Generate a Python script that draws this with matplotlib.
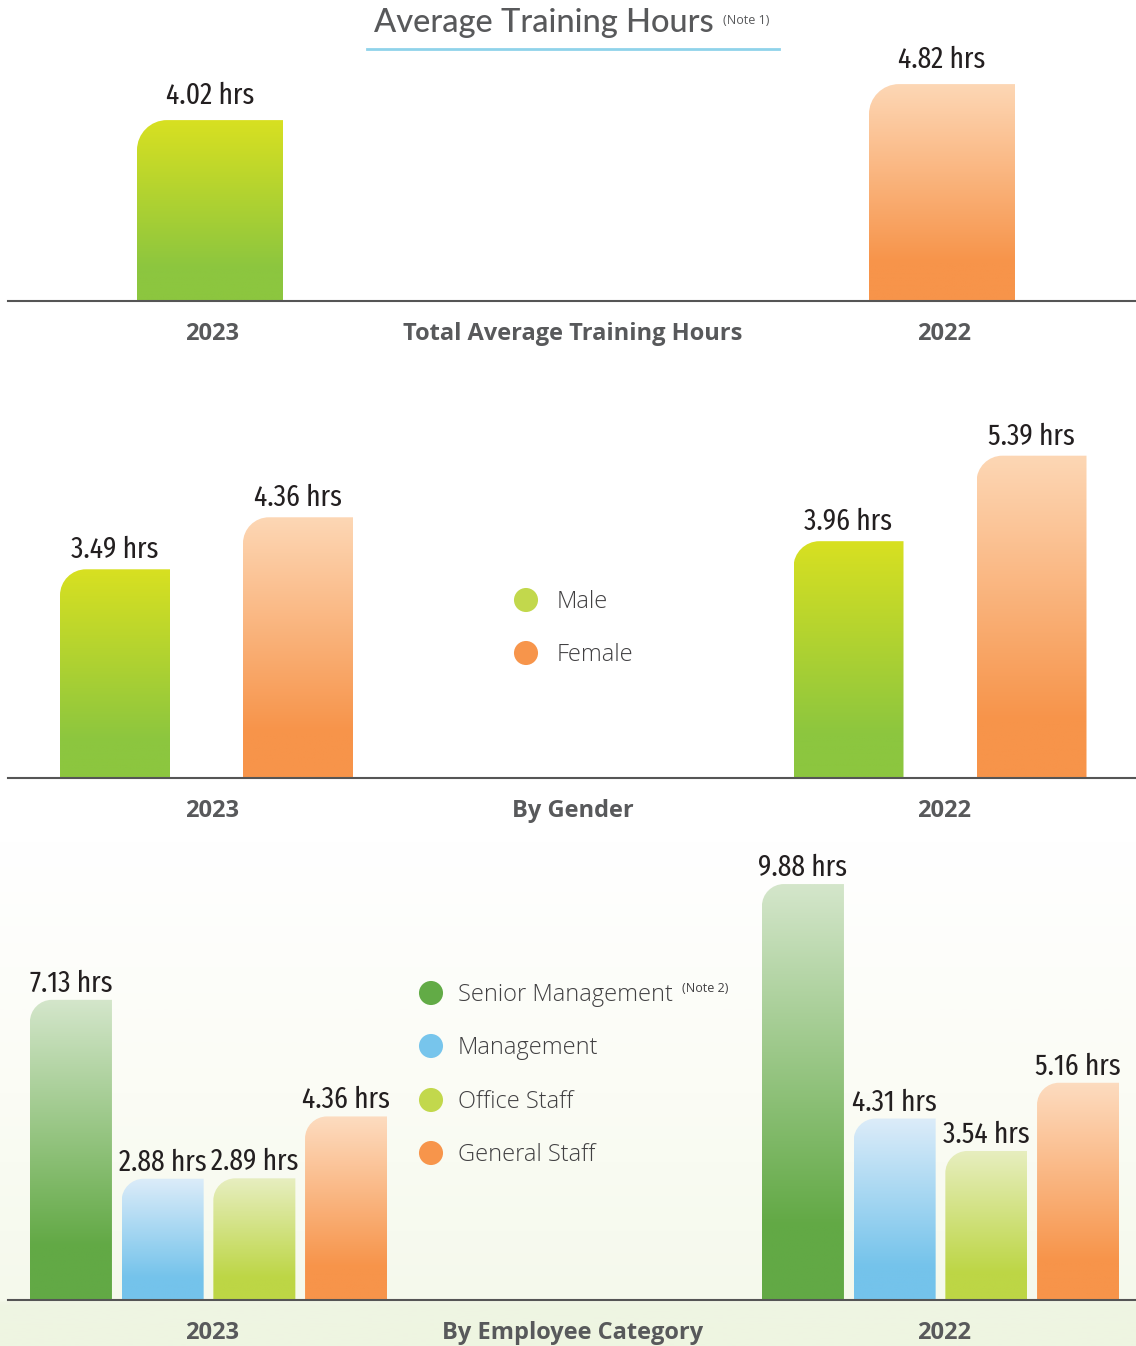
import matplotlib
matplotlib.use('Agg')
import matplotlib.pyplot as plt
import numpy as np
from matplotlib.path import Path
from matplotlib.patches import PathPatch
from matplotlib.colors import LinearSegmentedColormap

years = ['2023', '2022']

total_hours = [4.02, 4.82]

gender_labels = ['Male', 'Female']
gender_hours_2023 = [3.49, 4.36]
gender_hours_2022 = [3.96, 5.39]

category_labels = ['Senior Management', 'Management', 'Office Staff', 'General Staff']
category_hours_2023 = [7.13, 2.88, 2.89, 4.36]
category_hours_2022 = [9.88, 4.31, 3.54, 5.16]

# (top colour, bottom colour) for the bar fills
LIME = ('#d8e021', '#8cc63f')
PEACH = ('#fdd7b5', '#f7944a')
CAT_FILLS = [('#d4e6cb', '#62a945'), ('#dcecf9', '#74c3eb'),
             ('#e7eec0', '#bdd645'), ('#fddcc0', '#f7944a')]
GENDER_DOTS = ['#c2d84c', '#f7954b']
CAT_DOTS = ['#62ab46', '#77c5ec', '#c2d84c', '#f7954b']

NARROW = ['Fira Sans Extra Condensed', 'Fira Sans Condensed', 'DejaVu Sans']
BOLD = ['Open Sans', 'DejaVu Sans']
LIGHT = ['Open Sans', 'DejaVu Sans']
GREY = '#58595b'

W, H = 1136, 1346
fig = plt.figure(figsize=(W / 100, H / 100), dpi=100)

# background layer in pixel units (y down)
bg = fig.add_axes([0, 0, 1, 1])
bg.axis('off')
haze = LinearSegmentedColormap.from_list(
    'haze', [(0, '#ffffff'), (0.5, '#fbfcf5'), (0.91, '#f5f9ec'), (0.92, '#eff5e3'), (1, '#eef5e1')])
bg.imshow(np.linspace(0, 1, 400).reshape(-1, 1), extent=(0, W, H, 840),
          aspect='auto', cmap=haze, zorder=0)
bg.set_xlim(0, W)
bg.set_ylim(H, 0)


def panel_axes(base, top, px_per_hr):
    ax = fig.add_axes([0, 1 - base / H, 1, (base - top) / H])
    ax.patch.set_alpha(0)
    ax.axis('off')
    ax.limits = (W, (base - top) / px_per_hr)
    ax.px_per_hr = px_per_hr
    return ax


def rounded_bar(ax, x0, width, value, colors, radius):
    rx, ry = radius, radius / ax.px_per_hr
    k = 0.5523
    x1 = x0 + width
    verts = [(x0, 0), (x0, value - ry),
             (x0, value - ry + k * ry), (x0 + rx - k * rx, value), (x0 + rx, value),
             (x1, value), (x1, 0), (x0, 0)]
    codes = [Path.MOVETO, Path.LINETO, Path.CURVE4, Path.CURVE4, Path.CURVE4,
             Path.LINETO, Path.LINETO, Path.CLOSEPOLY]
    patch = PathPatch(Path(verts, codes), facecolor='none', edgecolor='none')
    ax.add_patch(patch)
    top_c, bot_c = colors
    cmap = LinearSegmentedColormap.from_list('fill', [(0, bot_c), (0.18, bot_c), (1, top_c)])
    im = ax.imshow(np.linspace(0, 1, 256).reshape(-1, 1), extent=(x0, x1, 0, value),
                   origin='lower', aspect='auto', cmap=cmap, zorder=2)
    im.set_clip_path(patch)


def value_label(ax, xc, value, gap_px, size):
    ax.annotate(f'{value:.2f} hrs', (xc, value), xytext=(0, gap_px * 0.72),
                textcoords='offset points', ha='center', va='baseline',
                fontsize=size, family=NARROW, fontstretch='condensed',
                fontweight='normal', color='#231f20', zorder=3)


def finish(ax):
    ax.plot([8, W], [0, 0], color='#555555', lw=1.5, clip_on=False, zorder=4)
    ax.set_xlim(0, ax.limits[0])
    ax.set_ylim(0, ax.limits[1])


# --- total average hours
ax1 = panel_axes(301, 40, 45.0)
for xc, v, fill in zip([210, 942], total_hours, [LIME, PEACH]):
    rounded_bar(ax1, xc - 73, 146, v, fill, 30)
    value_label(ax1, xc, v, 16, 21.5)
finish(ax1)

# --- by gender
ax2 = panel_axes(778, 400, 59.8)
for gc, vals in zip([206.5, 940], [gender_hours_2023, gender_hours_2022]):
    for i, (v, fill) in enumerate(zip(vals, [LIME, PEACH])):
        xc = gc + (i - 0.5) * 183
        rounded_bar(ax2, xc - 55, 110, v, fill, 26)
        value_label(ax2, xc, v, 11, 21.5)
finish(ax2)

# --- by employee category
ax3 = panel_axes(1300, 850, 42.1)
for gc, vals in zip([208.5, 940.5], [category_hours_2023, category_hours_2022]):
    for i, (v, fill) in enumerate(zip(vals, CAT_FILLS)):
        xc = gc + (i - 1.5) * 91.7
        rounded_bar(ax3, xc - 41, 82, v, fill, 22)
        value_label(ax3, xc, v, 8, 21.5)
finish(ax3)

# titles and axis captions
bg.text(544, 23, 'Average Training Hours', ha='center', va='center',
        fontsize=23.5, fontweight='medium', family=['Lato', 'DejaVu Sans'], color=GREY)
bg.text(723, 20, '(Note 1)', ha='left', va='center', fontsize=9,
        family=LIGHT, color=GREY)
bg.plot([367, 779], [49, 49], color='#8fd3ea', lw=2)

for y, caption in zip([334, 811, 1333],
                      ['Total Average Training Hours', 'By Gender', 'By Employee Category']):
    bg.text(212, y, years[0], ha='center', va='center', fontsize=17,
            fontweight='bold', family=BOLD, color=GREY)
    bg.text(944, y, years[1], ha='center', va='center', fontsize=17,
            fontweight='bold', family=BOLD, color=GREY)
    bg.text(573, y, caption, ha='center', va='center', fontsize=17,
            fontweight='bold', family=BOLD, color=GREY)

# legends
for y, label, c in zip([600, 653], gender_labels, GENDER_DOTS):
    bg.scatter([526], [y], s=300, color=c, edgecolors='none', zorder=3)
    bg.text(557, y + 2, label, ha='left', va='center', fontsize=17,
            fontweight='light', family=LIGHT, color='#414042')

for y, label, c in zip([993, 1046, 1100, 1153], category_labels, CAT_DOTS):
    bg.scatter([431], [y], s=300, color=c, edgecolors='none', zorder=3)
    bg.text(458, y + 2, label, ha='left', va='center', fontsize=17,
            fontweight='light', family=LIGHT, color='#414042')
bg.text(682, 988, '(Note 2)', ha='left', va='center', fontsize=9,
        family=LIGHT, color='#414042')

fig.savefig('out.png', dpi=100)
